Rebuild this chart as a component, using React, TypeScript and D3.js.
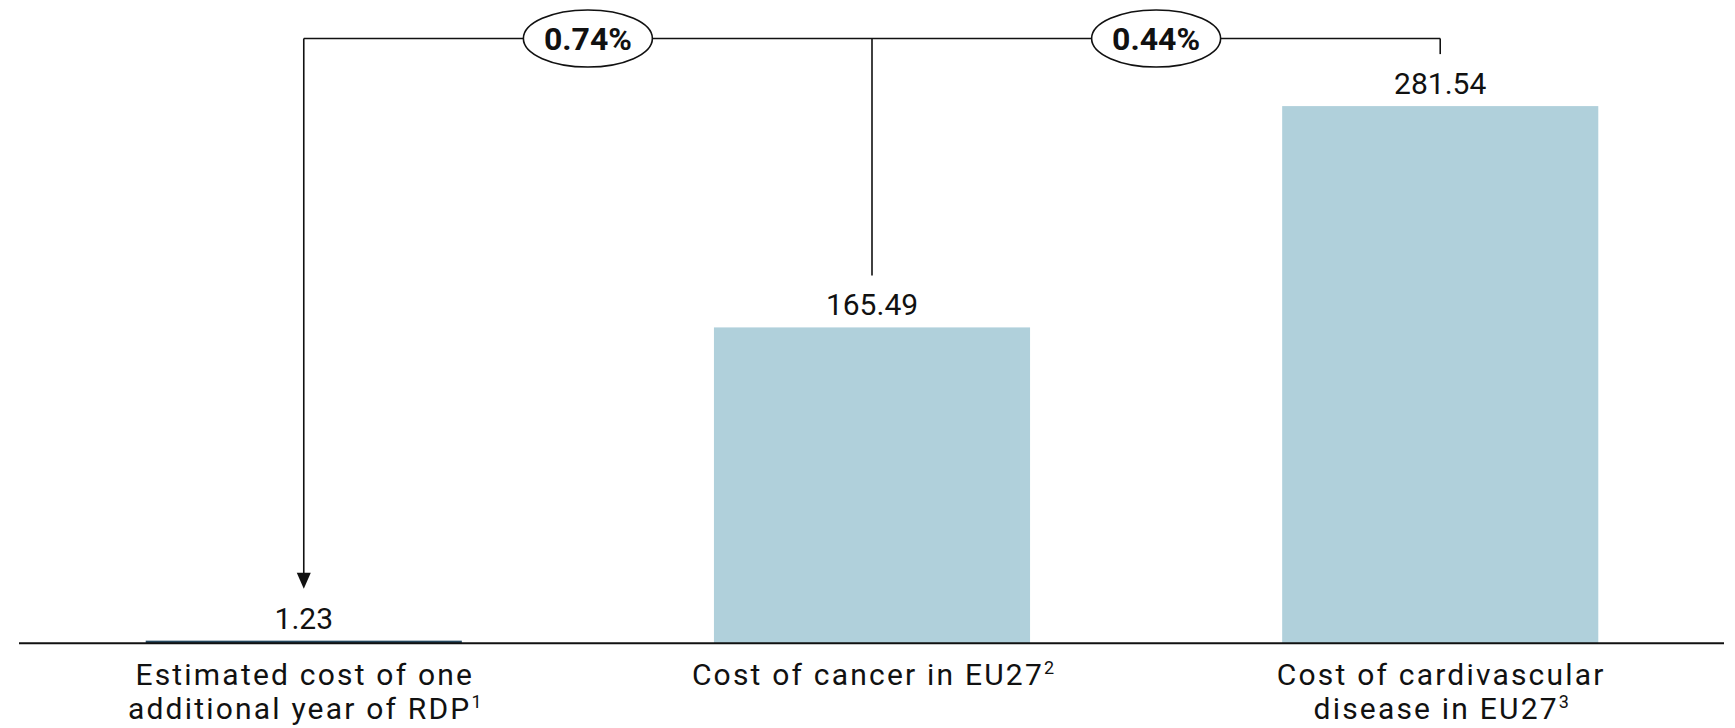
import React from "react";
import * as d3 from "d3";

// Bars: cost figures (EUR bn)
const categories = ["rdp", "cancer", "cvd"];
const values = [1.23, 165.49, 281.54];
const valueLabels = ["1.23", "165.49", "281.54"];
const labelLines: { text: string; sup?: string }[][] = [
  [{ text: "Estimated cost of one" }, { text: "additional year of RDP", sup: "1" }],
  [{ text: "Cost of cancer in EU27", sup: "2" }],
  [{ text: "Cost of cardivascular" }, { text: "disease in EU27", sup: "3" }],
];
const barColors = ["#25485f", "#b0d0db", "#b0d0db"];

const W = 1735;
const H = 728;
const FONT = "'Century Gothic', Roboto, 'Noto Sans', sans-serif";

export default function App() {
  const x = d3
    .scaleBand<string>()
    .domain(categories)
    .range([19, 1725])
    .paddingInner(0.4437)
    .paddingOuter(0.223);
  const y = d3.scaleLinear().domain([0, 300]).range([643, 643 - 300 * 1.907]);

  const cx = (i: number) => (x(categories[i]) as number) + x.bandwidth() / 2;
  const labelBase = (i: number) => y(values[i]) - 12;
  const connEnd = (i: number) => labelBase(i) - 40;

  const lineY = 38.5;
  const ratios = [
    { a: 0, b: 1, pct: values[0] / values[1] },
    { a: 1, b: 2, pct: values[0] / values[2] },
  ];
  const fmt = d3.format(".2%");

  const arrowTip = connEnd(0);

  return (
    <svg
      width={W}
      height={H}
      style={{ position: "absolute", left: 0, top: 0, background: "#fff" }}
      fontFamily={FONT}
    >
      {/* bars */}
      {categories.map((c, i) => (
        <rect
          key={c}
          x={x(c)}
          y={y(values[i])}
          width={x.bandwidth()}
          height={y(0) - y(values[i])}
          fill={barColors[i]}
        />
      ))}

      {/* baseline */}
      <line x1={19} x2={1724} y1={643.3} y2={643.3} stroke="#111" strokeWidth={2} />

      {/* value labels */}
      {categories.map((c, i) => (
        <text
          key={c}
          x={cx(i)}
          y={labelBase(i)}
          textAnchor="middle"
          fontSize={30}
          fill="#111"
        >
          {valueLabels[i]}
        </text>
      ))}

      {/* category labels */}
      {labelLines.map((lines, i) => (
        <text
          key={i}
          x={cx(i)}
          y={685}
          textAnchor="middle"
          fontSize={30}
          letterSpacing={2.2}
          fill="#111"
        >
          {lines.map((ln, j) => (
            <tspan key={j} x={cx(i) + 1} y={685 + j * 33.5}>
              {ln.text}
              {ln.sup && (
                <tspan fontSize={18} dy={-11} letterSpacing={0}>
                  {ln.sup}
                </tspan>
              )}
            </tspan>
          ))}
        </text>
      ))}

      {/* connectors */}
      <g stroke="#111" strokeWidth={1.6} fill="none">
        <line x1={cx(0)} x2={cx(2)} y1={lineY} y2={lineY} />
        <line x1={cx(0)} x2={cx(0)} y1={lineY} y2={arrowTip - 14} />
        <line x1={cx(1)} x2={cx(1)} y1={lineY} y2={connEnd(1)} />
        <line x1={cx(2)} x2={cx(2)} y1={lineY} y2={connEnd(2)} />
      </g>
      <path
        d={`M${cx(0) - 7},${arrowTip - 16} L${cx(0) + 7},${arrowTip - 16} L${cx(0)},${arrowTip} Z`}
        fill="#111"
      />

      {/* ratio bubbles */}
      {ratios.map((r, k) => {
        const mx = (cx(r.a) + cx(r.b)) / 2;
        return (
          <g key={k}>
            <ellipse cx={mx} cy={lineY} rx={64.5} ry={28.5} fill="#fff" stroke="#111" strokeWidth={1.6} />
            <text
              x={mx}
              y={lineY + 11}
              textAnchor="middle"
              fontSize={32}
              fontWeight="bold"
              fill="#111"
            >
              {fmt(r.pct)}
            </text>
          </g>
        );
      })}
    </svg>
  );
}
